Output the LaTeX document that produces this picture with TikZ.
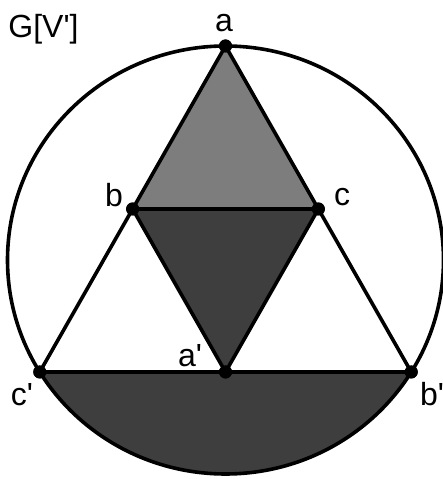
\documentclass[tikz,border=0pt]{standalone}
\usepackage{fontspec}
\setmainfont{Liberation Sans}[Ligatures=TeXOff]
\usetikzlibrary{calc}
\definecolor{midgray}{RGB}{125,125,125}
\definecolor{darkfill}{RGB}{62,62,62}
\begin{document}
\begin{tikzpicture}[x=1pt,y=1pt,
  edge/.style={line width=3.6pt,line join=round},
  vdot/.style={circle,fill=black,inner sep=0pt,minimum size=13pt},
  lbl/.style={font=\fontsize{32}{36}\selectfont,inner sep=0pt}]
\useasboundingbox (0,0) rectangle (443,479);
\coordinate (O) at (225.5,219);
\coordinate (pa) at ($(O)+(90:218 and 214)$);
\coordinate (pcp) at ($(O)+(211.56:218 and 214)$);
\coordinate (pbp) at ($(O)+(328.44:218 and 214)$);
\coordinate (pb) at ($(pa)!0.5!(pcp)$);
\coordinate (pc) at ($(pa)!0.5!(pbp)$);
\coordinate (pap) at ($(pcp)!0.5!(pbp)$);
% fills
\fill[midgray] (pa) -- (pb) -- (pc) -- cycle;
\fill[darkfill] (pb) -- (pc) -- (pap) -- cycle;
\fill[darkfill] (pcp) arc[start angle=211.56, end angle=328.44, x radius=218, y radius=214] -- cycle;
% circle
\draw[edge] (O) ellipse [x radius=218, y radius=214];
% vertices
\node[vdot] (a) at (pa) {};
\node[vdot] (b) at (pb) {};
\node[vdot] (c) at (pc) {};
\node[vdot] (ap) at (pap) {};
\node[vdot] (bp) at (pbp) {};
\node[vdot] (cp) at (pcp) {};
% edges
\draw[edge] (a.center) -- (b.center) -- (cp.center) -- (ap.center) -- (bp.center) -- (c.center) -- (a.center);
\draw[edge] (b.center) -- (c.center) -- (ap.center) -- (b.center);
% redraw dots on top
\foreach \v in {a,b,c,ap,bp,cp} \fill (\v) circle (6.5);
% labels
\node[lbl] (lG) at (43.5,450) {G[V']};
\node[lbl] (la) at (224,456) {a};
\node[lbl] (lb) at (114,284) {b};
\node[lbl] (lc) at (342,282) {c};
\node[lbl] (lap) at (190,123) {a'};
\node[lbl] (lcp) at (22,84) {c'};
\node[lbl] (lbp) at (432,85) {b'};
\end{tikzpicture}
\end{document}
